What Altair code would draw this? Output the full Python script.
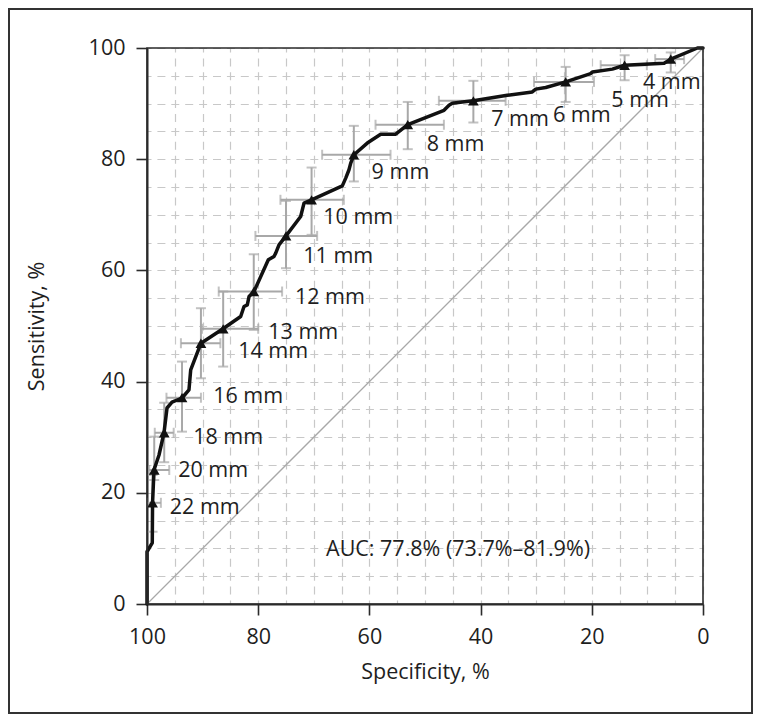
import altair as alt
import pandas as pd

# ---------------- data ----------------
curve_spec = [100, 100, 99.05, 99.0, 98.74, 97.84, 96.94, 96.4, 95.5, 93.7, 92.45, 92.14, 90.29,
              86.33, 83.15, 82.55, 81.96, 81.65, 80.76, 78.18, 77.16, 76.85, 76.26, 75.0, 72.36,
              71.76, 70.41, 64.87, 64.26, 63.67, 63.36, 62.77, 60.38, 57.97, 55.27, 53.1, 46.58,
              45.68, 45.09, 43.29, 41.3, 35.2, 30.7, 30.09, 28.29, 24.7, 20.2, 19.9, 16.3, 14.1,
              7.0, 5.8, 1.0, 0.0]
curve_sens = [0, 9.4, 11.0, 18.2, 24.1, 26.8, 30.8, 35.25, 36.3, 37.05, 38.5, 42.1, 46.9,
              49.5, 51.7, 53.5, 53.8, 55.3, 56.2, 61.9, 62.5, 63.1, 64.6, 66.2, 69.7,
              72.1, 72.7, 75.2, 76.6, 78.1, 79.3, 80.8, 82.9, 84.5, 84.5, 86.2, 88.8,
              89.7, 90.05, 90.3, 90.5, 91.5, 92.1, 92.6, 92.9, 93.9, 95.4, 95.7, 96.2, 96.9,
              97.25, 98.0, 100, 100]

cut_labels = ["4 mm", "5 mm", "6 mm", "7 mm", "8 mm", "9 mm", "10 mm", "11 mm", "12 mm",
              "13 mm", "14 mm", "16 mm", "18 mm", "20 mm", "22 mm"]
cut_spec = [5.8, 14.1, 24.7, 41.3, 53.1, 62.8, 70.4, 75.0, 80.8, 86.3, 90.3, 93.7, 96.9, 98.7, 99.0]
cut_sens = [98.0, 96.9, 93.9, 90.5, 86.2, 80.8, 72.7, 66.2, 56.2, 49.5, 46.9, 37.1, 30.8, 24.1, 18.2]
spec_hi = [8.6, 18.4, 30.4, 47.5, 58.9, 68.5, 76.0, 80.5, 87.1, 90.1, 93.9, 96.5, 98.6, 99.6, 100.0]
spec_lo = [3.4, 10.1, 19.6, 35.5, 46.6, 56.2, 64.6, 69.4, 75.7, 80.0, 86.8, 90.3, 95.2, 96.0, 97.5]
sens_hi = [99.2, 98.7, 96.6, 94.1, 90.3, 86.0, 78.5, 72.5, 62.9, 56.2, 53.2, 43.6, 36.2, 30.1, 23.2]
sens_lo = [95.6, 94.2, 90.3, 86.6, 81.8, 76.0, 66.4, 60.4, 49.3, 42.7, 40.6, 31.0, 25.5, 22.3, 13.0]

# annotation anchors (left edge / vertical middle), in data units
label_spec = [10.8, 16.5, 27.0, 38.1, 49.7, 59.6, 68.3, 71.9, 73.4, 78.2, 83.6, 88.1, 91.7, 94.4, 95.9]
label_sens = [93.7, 90.4, 87.7, 87.1, 82.6, 77.6, 69.4, 62.5, 55.0, 48.7, 45.4, 37.3, 29.9, 24.0, 17.2]

auc_text = ["AUC: 77.8% (73.7%\u201381.9%)"]
auc_spec = [67.8]
auc_sens = [9.7]

diag_spec = [100, 0]
diag_sens = [0, 100]

# ---------------- style ----------------
FONT = "Open Sans"
DARK = "#2b2b2b"
TXT = "#1e1e1e"
GRAY = "#a8a8a8"
FS = 21.5
X_TITLE = "Specificity, %"
Y_TITLE = "Sensitivity, %"

grid_vals = list(range(0, 101, 5))
major = "datum.value % 20 === 0"

common_axis = dict(
    values=grid_vals,
    labelExpr=f"{major} ? datum.label : ''",
    labelFlush=False,
    grid=True, gridColor="#c8c8c8", gridDash=[8, 5.9], gridDashOffset=4, gridWidth=1.2,
    tickColor={"condition": {"test": major, "value": DARK}, "value": "transparent"},
    tickSize=11, tickWidth=1.6,
    domainColor=DARK, domainWidth=2,
    labelFont=FONT, labelFontSize=FS, labelColor=TXT,
    titleFont=FONT, titleFontSize=FS, titleFontWeight="normal", titleColor=TXT,
)
xaxis = alt.Axis(labelPadding=11, titlePadding=14, **common_axis)
yaxis = alt.Axis(labelPadding=11, titlePadding=40, **common_axis)
xscale = alt.Scale(domain=[100, 0], nice=False, zero=False)
yscale = alt.Scale(domain=[0, 100], nice=False, zero=False)


def X(field):
    return alt.X(field, type="quantitative", scale=xscale, axis=xaxis, title=X_TITLE)


def Y(field):
    return alt.Y(field, type="quantitative", scale=yscale, axis=yaxis, title=Y_TITLE)


diag_df = pd.DataFrame({"spec": diag_spec, "sens": diag_sens})
curve_df = pd.DataFrame({"spec": curve_spec, "sens": curve_sens, "i": range(len(curve_spec))})
cut_df = pd.DataFrame({"label": cut_labels, "spec": cut_spec, "sens": cut_sens,
                       "spec_hi": spec_hi, "spec_lo": spec_lo,
                       "sens_hi": sens_hi, "sens_lo": sens_lo,
                       "lx": label_spec, "ly": label_sens})
auc_df = pd.DataFrame({"text": auc_text, "lx": auc_spec, "ly": auc_sens})
one_df = pd.DataFrame({"k": [0]})

diag = alt.Chart(diag_df).mark_line(color=GRAY, strokeWidth=1.3).encode(
    x=X("spec"), y=Y("sens"))

herr = alt.Chart(cut_df).mark_errorbar(ticks=True, size=10, thickness=2, color=GRAY).encode(
    x=X("spec_hi"), x2="spec_lo", y=Y("sens"))
verr = alt.Chart(cut_df).mark_errorbar(ticks=True, size=10, thickness=2, color=GRAY).encode(
    x=X("spec"), y=Y("sens_lo"), y2="sens_hi")

curve = alt.Chart(curve_df).mark_line(color="#111111", strokeWidth=3.5,
                                      strokeJoin="round", strokeCap="round").encode(
    x=X("spec"), y=Y("sens"), order="i:Q")

marks = alt.Chart(cut_df).mark_point(shape="triangle-up", filled=True, size=115,
                                     color="#111111", opacity=1).encode(
    x=X("spec"), y=Y("sens"))

labels = alt.Chart(cut_df).mark_text(align="left", baseline="middle", font=FONT,
                                     fontSize=FS, color=TXT).encode(
    x=X("lx"), y=Y("ly"), text="label:N")

auc = alt.Chart(auc_df).mark_text(align="left", baseline="middle", font=FONT,
                                  fontSize=FS, color=TXT).encode(
    x=X("lx"), y=Y("ly"), text="text:N")

# solid frame of the plot area (drawn above the grid)
plot_frame = alt.Chart(one_df).mark_rect(
    fillOpacity=0, stroke=DARK, strokeWidth=1.6).encode(
    x=alt.value(0), x2=alt.value(556), y=alt.value(0), y2=alt.value(556))

# outer figure border
frame = alt.Chart(one_df).mark_rect(
    fillOpacity=0, stroke="#333333", strokeWidth=2).encode(
    x=alt.value(-138), x2=alt.value(605), y=alt.value(-39), y2=alt.value(665))

chart = alt.layer(diag, herr, verr, curve, marks, labels, auc, plot_frame, frame).properties(
    width=556, height=556,
    padding={"left": 139, "top": 40, "right": 50, "bottom": 110},
    autosize=alt.AutoSizeParams(type="none"),
).configure_view(stroke=None)

chart.save("out.html", embed_options={"renderer": "svg", "actions": False})
